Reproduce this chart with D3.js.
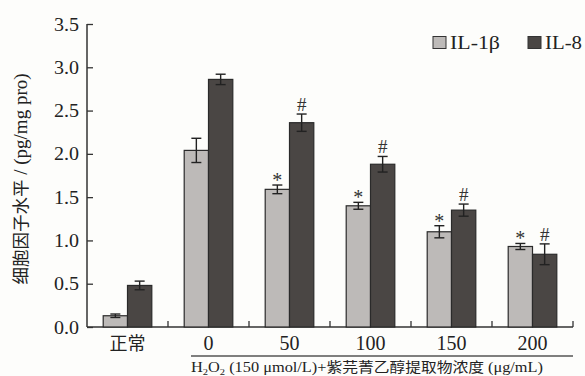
<!DOCTYPE html>
<html><head><meta charset="utf-8">
<script src="https://cdn.jsdelivr.net/npm/d3@7"></script>
<style>body{margin:0;background:#fdfdfb;} svg{display:block;}</style>
</head><body>
<svg id="c" width="585" height="376"></svg>
<script>
const categories = ["正常", "0", "50", "100", "150", "200"];
const seriesNames = ["IL-1β", "IL-8"];
const il1b = [0.13, 2.04, 1.59, 1.40, 1.10, 0.93];
const il1bErr = [0.02, 0.14, 0.05, 0.04, 0.07, 0.035];
const il8 = [0.48, 2.86, 2.36, 1.88, 1.35, 0.84];
const il8Err = [0.05, 0.06, 0.10, 0.09, 0.07, 0.12];
const il1bMark = ["", "", "*", "*", "*", "*"];
const il8Mark = ["", "", "#", "#", "#", "#"];
const yTicks = [0, 0.5, 1.0, 1.5, 2.0, 2.5, 3.0, 3.5];
const colors = ["#bdbab8", "#4a4644"];

(function () {
const svg = d3.select("#c");
const mLeft = 87, mRight = 573, mTop = 24, mBottom = 327;
const serif = "'Liberation Serif','DejaVu Serif',serif";
const cjk = "'Noto Sans CJK SC',sans-serif";

const y = d3.scaleLinear().domain([0, 3.5]).range([mBottom, mTop]);
const x0 = d3.scaleBand().domain(categories).range([mLeft, mRight]).paddingInner(0.4).paddingOuter(0.2);
const groupX = d3.scaleBand().domain(categories).range([mLeft, mRight]);
const x1 = d3.scaleBand().domain(seriesNames).range([0, x0.bandwidth()]);

const yAxis = d3.axisLeft(y).tickValues(yTicks).tickFormat(d3.format(".1f")).tickSize(-6).tickPadding(8);
const gy = svg.append("g").attr("transform", `translate(${mLeft},0)`).call(yAxis);
gy.select(".domain").attr("stroke", "#333").attr("stroke-width", 1.5).attr("d", `M0,${mBottom}V${mTop}`);
gy.selectAll(".tick line").attr("stroke", "#333").attr("stroke-width", 1.3);
gy.selectAll("text").attr("font-family", serif).attr("font-size", 19).attr("fill", "#222")
  .attr("textLength", 25).attr("lengthAdjust", "spacingAndGlyphs");

svg.append("line").attr("x1", mLeft).attr("x2", mRight).attr("y1", mBottom).attr("y2", mBottom)
  .attr("stroke", "#333").attr("stroke-width", 1.5);
categories.forEach(c => {
  const xx = groupX(c) + groupX.bandwidth();
  svg.append("line").attr("x1", xx).attr("x2", xx).attr("y1", mBottom).attr("y2", mBottom - 6)
    .attr("stroke", "#333").attr("stroke-width", 1.3);
});

const data = [il1b, il8];
const errs = [il1bErr, il8Err];
const marks = [il1bMark, il8Mark];
seriesNames.forEach((s, si) => {
  categories.forEach((c, ci) => {
    const bx = x0(c) + x1(s);
    const v = data[si][ci], e = errs[si][ci];
    svg.append("rect").attr("x", bx).attr("y", y(v)).attr("width", x1.bandwidth()).attr("height", y(0) - y(v))
      .attr("fill", colors[si]).attr("stroke", "#2a2a2a").attr("stroke-width", 1.2);
    const cx = bx + x1.bandwidth() / 2;
    const g = svg.append("g").attr("stroke", "#222").attr("stroke-width", 1.4);
    g.append("line").attr("x1", cx).attr("x2", cx).attr("y1", y(v + e)).attr("y2", y(v - e));
    g.append("line").attr("x1", cx - 5).attr("x2", cx + 5).attr("y1", y(v + e)).attr("y2", y(v + e));
    g.append("line").attr("x1", cx - 5).attr("x2", cx + 5).attr("y1", y(v - e)).attr("y2", y(v - e));
    if (marks[si][ci]) {
      const isStar = marks[si][ci] === "*";
      svg.append("text").attr("x", cx).attr("y", y(v + e) - (isStar ? -2 : 3))
        .attr("text-anchor", "middle").attr("font-family", serif)
        .attr("font-size", isStar ? 20 : 19).attr("fill", "#333").text(marks[si][ci]);
    }
  });
});

categories.forEach(c => {
  svg.append("text").attr("x", x0(c) + x0.bandwidth() / 2).attr("y", mBottom + 23)
    .attr("text-anchor", "middle").attr("font-family", c === "正常" ? cjk : serif)
    .attr("font-size", c === "正常" ? 18 : 20).attr("fill", "#222").text(c);
});

const ulStart = 191;
svg.append("line").attr("x1", ulStart).attr("x2", mRight).attr("y1", 356).attr("y2", 356)
  .attr("stroke", "#555").attr("stroke-width", 1.4);
const t = svg.append("text").attr("x", ulStart).attr("y", 372)
  .attr("font-family", serif).attr("font-size", 14).attr("fill", "#222")
  .attr("textLength", 352).attr("lengthAdjust", "spacingAndGlyphs");
t.append("tspan").text("H");
t.append("tspan").attr("font-size", 9).attr("dy", 3).text("2");
t.append("tspan").attr("dy", -3).text("O");
t.append("tspan").attr("font-size", 9).attr("dy", 3).text("2");
t.append("tspan").attr("dy", -3).text(" (150 μmol/L)+");
t.append("tspan").attr("font-family", cjk).attr("font-size", 13.5).text("紫芫菁乙醇提取物浓度");
t.append("tspan").text(" (μg/mL)");

svg.append("text").attr("transform", `translate(27,179) rotate(-90)`)
  .attr("text-anchor", "middle").attr("fill", "#222").attr("font-size", 17.5)
  .call(s => {
    s.append("tspan").attr("font-family", cjk).text("细胞因子水平");
    s.append("tspan").attr("font-family", serif).attr("font-size", 19).text(" / (pg/mg pro)");
  });

const legX = [433, 528];
const legW = [50, 37];
seriesNames.forEach((s, i) => {
  svg.append("rect").attr("x", legX[i]).attr("y", 36.5).attr("width", 13).attr("height", 12)
    .attr("fill", colors[i]).attr("stroke", "#333").attr("stroke-width", 1);
  svg.append("text").attr("x", legX[i] + 17).attr("y", 49).attr("font-family", serif)
    .attr("font-size", 19).attr("fill", "#222").attr("textLength", legW[i])
    .attr("lengthAdjust", "spacingAndGlyphs").text(s);
});
})();
</script>
</body></html>
